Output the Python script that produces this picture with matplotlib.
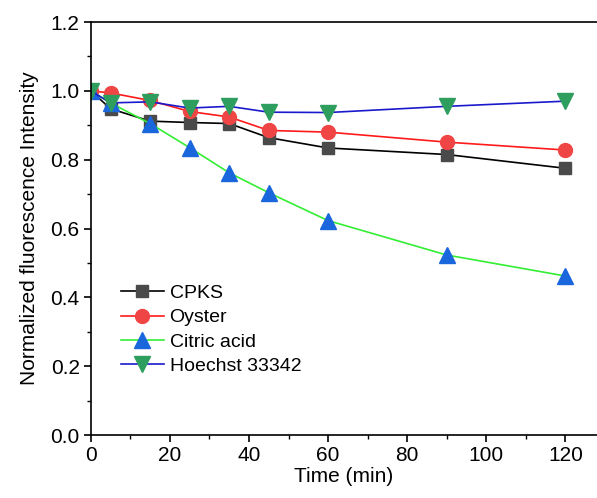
import matplotlib
matplotlib.use('Agg')
import matplotlib.pyplot as plt
from matplotlib.ticker import MultipleLocator

plt.rcParams['font.family'] = ['Liberation Sans', 'DejaVu Sans']

time = [0, 5, 15, 25, 35, 45, 60, 90, 120]
cpks = [1.0, 0.948, 0.912, 0.908, 0.905, 0.864, 0.834, 0.815, 0.775]
oyster = [1.0, 0.994, 0.972, 0.940, 0.924, 0.885, 0.880, 0.851, 0.828]
citric = [1.0, 0.965, 0.905, 0.835, 0.762, 0.704, 0.623, 0.523, 0.462]
hoechst = [1.0, 0.965, 0.968, 0.950, 0.955, 0.938, 0.937, 0.955, 0.970]

fig = plt.figure(figsize=(5.97, 4.98), dpi=100)
ax = fig.add_axes([0.152, 0.1265, 0.848, 0.8293])

ax.plot(time, cpks, '-', color='black', lw=1.2, marker='s', ms=9,
        mfc='#4a4a4a', mec='#4a4a4a', label='CPKS')
ax.plot(time, oyster, '-', color='#ff1a1a', lw=1.2, marker='o', ms=10,
        mfc='#f04545', mec='#f04545', label='Oyster')
ax.plot(time, citric, '-', color='#33ee33', lw=1.2, marker='^', ms=11,
        mfc='#1a66dd', mec='#1a66dd', label='Citric acid')
ax.plot(time, hoechst, '-', color='#1a1acc', lw=1.2, marker='v', ms=11,
        mfc='#2e9e5e', mec='#2e9e5e', label='Hoechst 33342')

ax.set_xlim(0, 128)
ax.set_ylim(0, 1.2)
ax.xaxis.set_major_locator(MultipleLocator(20))
ax.xaxis.set_minor_locator(MultipleLocator(10))
ax.yaxis.set_major_locator(MultipleLocator(0.2))
ax.yaxis.set_minor_locator(MultipleLocator(0.1))
ax.tick_params(which='major', direction='out', length=5, width=1.2, labelsize=15, pad=3)
ax.tick_params(which='minor', direction='out', length=3, width=1.0)
ax.tick_params(top=False, right=False, which='both')
for s in ax.spines.values():
    s.set_linewidth(1.2)
ax.spines['right'].set_visible(False)

ax.set_xlabel('Time (min)', fontsize=15, labelpad=1)
ax.set_ylabel('Normalized fluorescence Intensity', fontsize=15, labelpad=8)

ax.legend(loc='center left', bbox_to_anchor=(0.025, 0.255), frameon=False,
          fontsize=14, handlelength=2.2, handletextpad=0.3, labelspacing=0.34)

fig.savefig('out.png', dpi=100)
